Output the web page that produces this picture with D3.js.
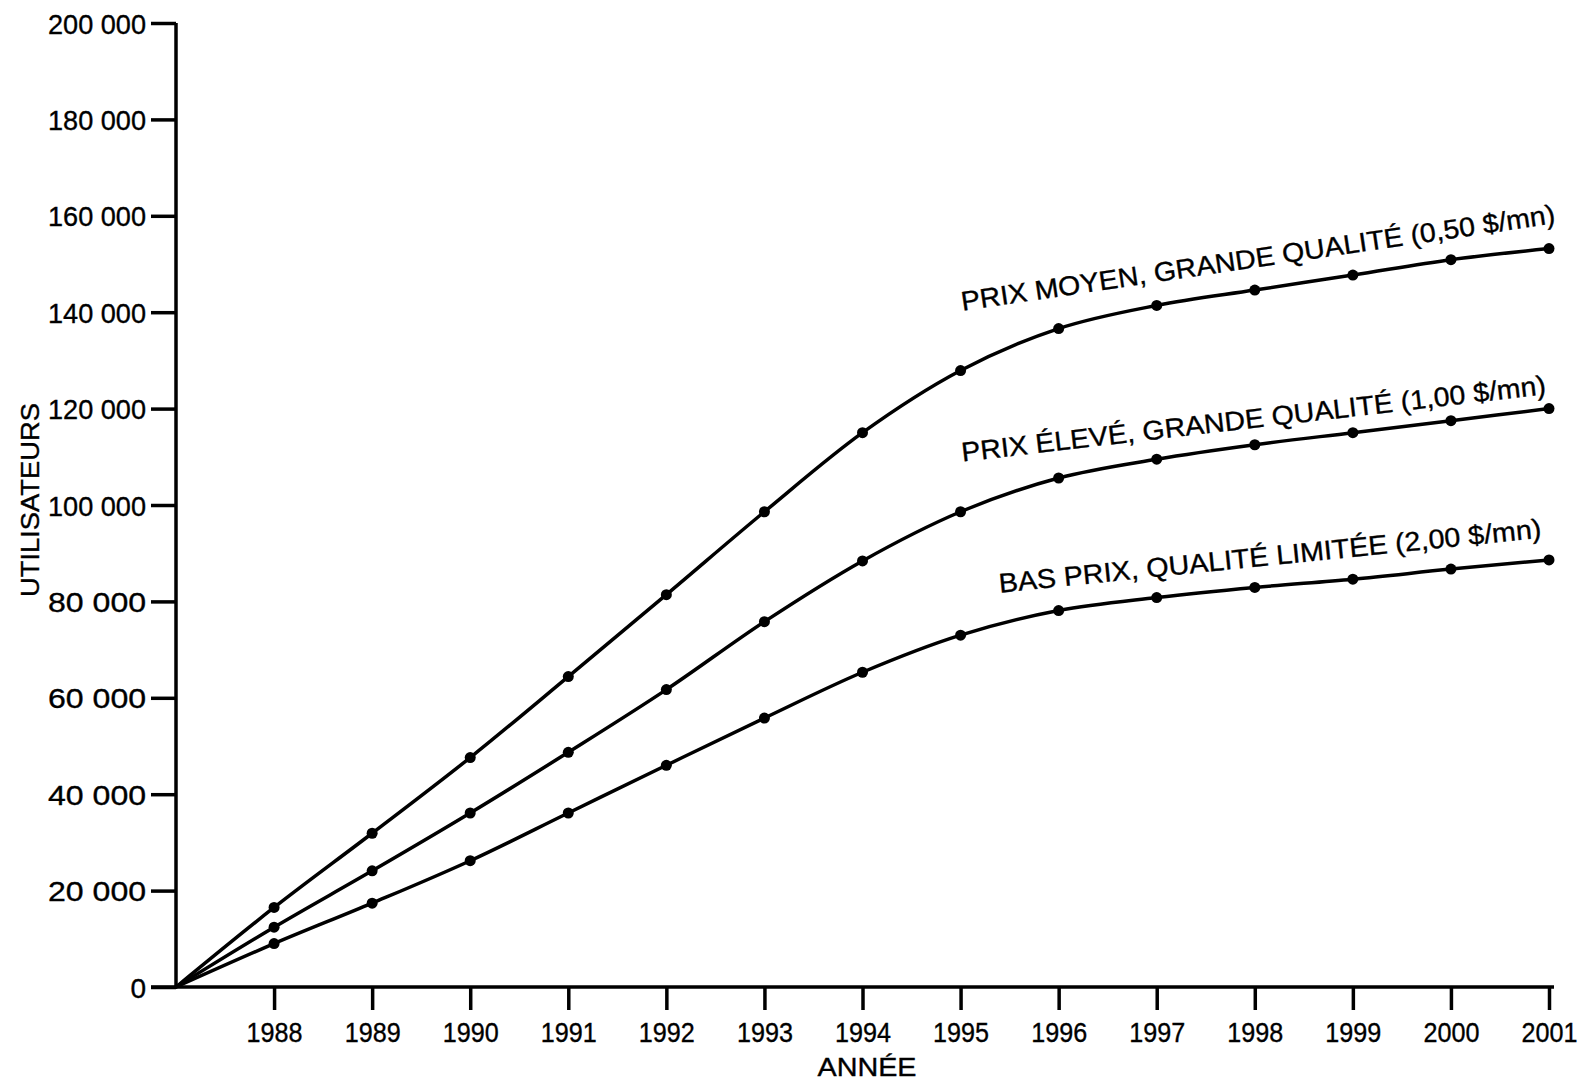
<!DOCTYPE html>
<html>
<head>
<meta charset="utf-8">
<script src="https://cdn.jsdelivr.net/npm/d3@7/dist/d3.min.js"></script>
<style>
  html, body { margin: 0; padding: 0; background: #fff; }
  svg { display: block; }
  text { font-family: "Liberation Sans", Arial, Helvetica, sans-serif; fill: #000; stroke: #000; stroke-width: 0.35px; }
</style>
</head>
<body>
<svg id="chart" width="1592" height="1082"></svg>
<script>
// ---- Data ----
const years = [1987, 1988, 1989, 1990, 1991, 1992, 1993, 1994, 1995, 1996, 1997, 1998, 1999, 2000, 2001];
const tickYears = [1988, 1989, 1990, 1991, 1992, 1993, 1994, 1995, 1996, 1997, 1998, 1999, 2000, 2001];
const yTicks = [0, 20000, 40000, 60000, 80000, 100000, 120000, 140000, 160000, 180000, 200000];
const seriesNames = [
  "PRIX MOYEN, GRANDE QUALITÉ (0,50 $/mn)",
  "PRIX ÉLEVÉ, GRANDE QUALITÉ (1,00 $/mn)",
  "BAS PRIX, QUALITÉ LIMITÉE (2,00 $/mn)"
];
const prixMoyen = [0, 16500, 31900, 47600, 64400, 81400, 98600, 115000, 127900, 136600, 141400, 144600, 147700, 150900, 153200];
const prixEleve = [0, 12400, 24100, 36100, 48700, 61700, 75800, 88400, 98600, 105600, 109500, 112500, 115000, 117500, 120000];
const basPrix   = [0, 9000, 17400, 26200, 36100, 46000, 55800, 65300, 73000, 78100, 80800, 82900, 84600, 86700, 88600];
const seriesValues = [prixMoyen, prixEleve, basPrix];

// ---- Layout ----
const svg = d3.select("#chart");
const x = d3.scaleLinear().domain([1987, 2001]).range([176, 1549]);
const y = d3.scaleLinear().domain([0, 200000]).range([987, 23]);
const fmt = v => v === 0 ? "0" : d3.format(",")(v).replace(/,/g, " ");

// Y axis
const yAxis = svg.append("g").attr("transform", `translate(${x(1987)},0)`)
  .call(d3.axisLeft(y).tickValues(yTicks).tickSize(25).tickPadding(5).tickFormat(fmt));
yAxis.select(".domain").attr("stroke", "#000").attr("stroke-width", 3.5).attr("d", `M0,${y(0)}V${y(200000)}`);
yAxis.selectAll(".tick line").attr("stroke", "#000").attr("stroke-width", 3.5);
yAxis.selectAll(".tick text").style("font-size", "28px").attr("dy", "0.36em")
  .attr("textLength", d => d === 0 ? null : 98).attr("lengthAdjust", "spacingAndGlyphs");

// X axis
const xAxis = svg.append("g").attr("transform", `translate(0,${y(0)})`)
  .call(d3.axisBottom(x).tickValues(tickYears).tickSize(23).tickPadding(8).tickFormat(d3.format("d")));
xAxis.select(".domain").attr("stroke", "#000").attr("stroke-width", 3.5).attr("d", `M${x(1987) - 25},0H${x(2001) + 5}`);
xAxis.selectAll(".tick line").attr("stroke", "#000").attr("stroke-width", 3.5);
xAxis.selectAll(".tick text").style("font-size", "28px").attr("dy", "0.85em")
  .attr("textLength", 56).attr("lengthAdjust", "spacingAndGlyphs");

// Axis titles
svg.append("text")
  .attr("transform", `translate(39,500) rotate(-90)`)
  .attr("text-anchor", "middle")
  .style("font-size", "25px")
  .attr("textLength", 194).attr("lengthAdjust", "spacingAndGlyphs")
  .text("UTILISATEURS");
svg.append("text")
  .attr("x", 867).attr("y", 1076)
  .attr("text-anchor", "middle")
  .style("font-size", "25px")
  .attr("textLength", 99).attr("lengthAdjust", "spacingAndGlyphs")
  .text("ANNÉE");

// Lines
const line = d3.line().x((d, i) => x(years[i])).y(d => y(d)).curve(d3.curveMonotoneX);
seriesValues.forEach(vals => {
  svg.append("path").datum(vals)
    .attr("fill", "none").attr("stroke", "#000").attr("stroke-width", 3.5)
    .attr("stroke-linejoin", "round").attr("stroke-linecap", "round")
    .attr("d", line);
  svg.append("g").selectAll("circle")
    .data(vals.map((v, i) => [years[i], v]).filter(d => d[0] !== 1987))
    .join("circle")
    .attr("cx", d => x(d[0])).attr("cy", d => y(d[1])).attr("r", 5.5).attr("fill", "#000");
});

// Series labels (anchored in data coordinates)
const labelPos = [
  { year: 1995.02, value: 140300, angle: -8.4, len: 600 },
  { year: 1995.02, value: 109000, angle: -6.6, len: 588 },
  { year: 1995.4, value: 81800, angle: -5.8, len: 545 }
];
seriesNames.forEach((name, i) => {
  const p = labelPos[i];
  svg.append("text")
    .attr("transform", `translate(${x(p.year)},${y(p.value)}) rotate(${p.angle})`)
    .style("font-size", "27px")
    .attr("textLength", p.len).attr("lengthAdjust", "spacingAndGlyphs")
    .text(name);
});
</script>
</body>
</html>
